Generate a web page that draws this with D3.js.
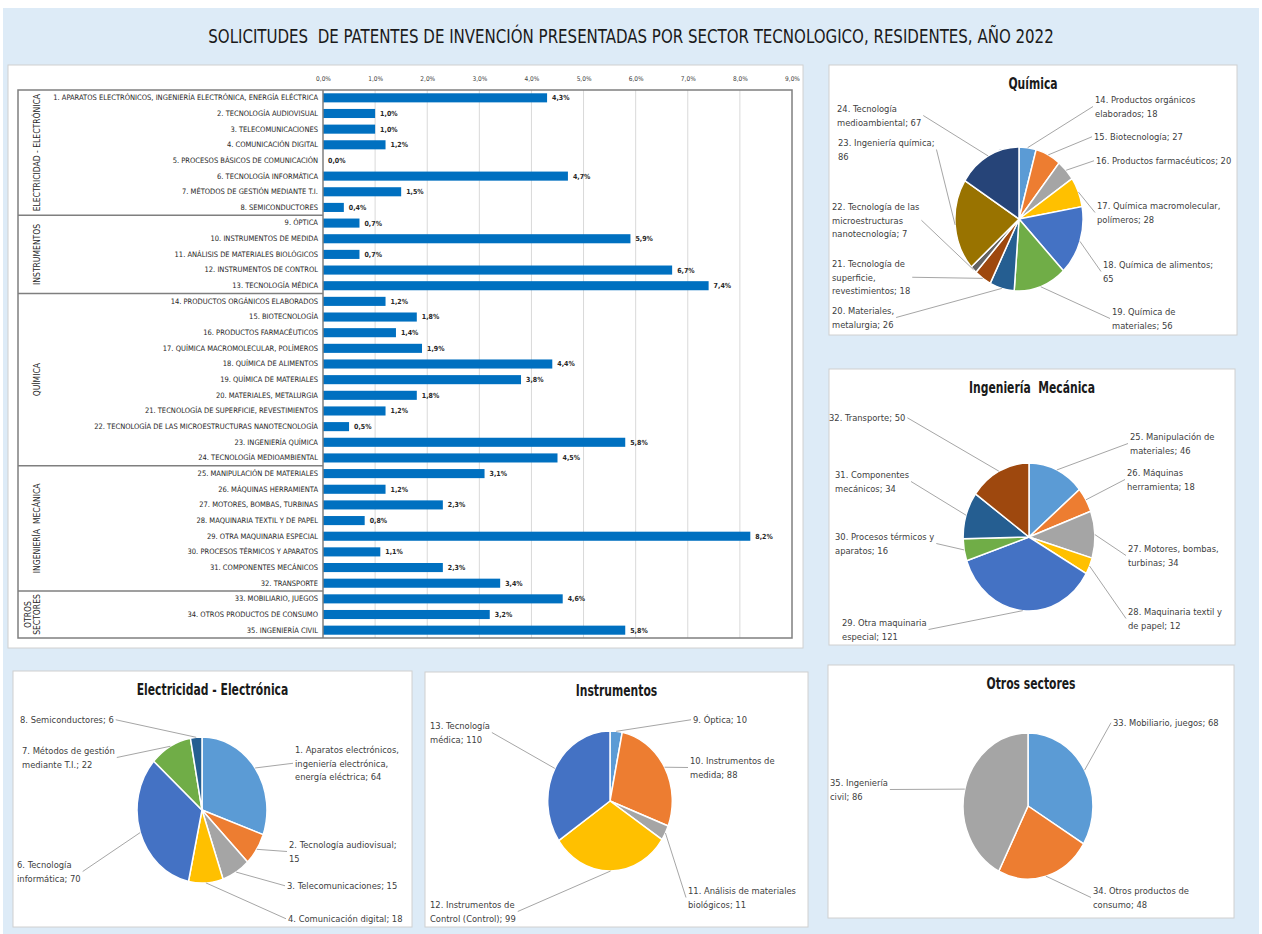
<!DOCTYPE html>
<html>
<head>
<meta charset="utf-8">
<script src="https://cdn.jsdelivr.net/npm/d3@7"></script>
<style>
  body { margin: 0; background: #ffffff; }
  svg text { font-family: "Liberation Sans Narrow", "DejaVu Sans Condensed", "Arial Narrow", sans-serif; }
</style>
</head>
<body>
<div id="chart"></div>
<script>
// data
var sectorNames = ["ELECTRICIDAD - ELECTRÓNICA", "INSTRUMENTOS", "QUÍMICA", "INGENIERÍA  MECÁNICA", "OTROS SECTORES"];
var sectorSizes = [8, 5, 11, 8, 3];

var fieldNames = [
  "1. APARATOS ELECTRÓNICOS, INGENIERÍA ELECTRÓNICA, ENERGÍA ELÉCTRICA",
  "2. TECNOLOGÍA AUDIOVISUAL",
  "3. TELECOMUNICACIONES",
  "4. COMUNICACIÓN DIGITAL",
  "5. PROCESOS BÁSICOS DE COMUNICACIÓN",
  "6. TECNOLOGÍA INFORMÁTICA",
  "7. MÉTODOS DE GESTIÓN MEDIANTE T.I.",
  "8. SEMICONDUCTORES",
  "9. ÓPTICA",
  "10. INSTRUMENTOS DE MEDIDA",
  "11. ANÁLISIS DE MATERIALES BIOLÓGICOS",
  "12. INSTRUMENTOS DE CONTROL",
  "13. TECNOLOGÍA MÉDICA",
  "14. PRODUCTOS ORGÁNICOS ELABORADOS",
  "15. BIOTECNOLOGÍA",
  "16. PRODUCTOS FARMACÉUTICOS",
  "17. QUÍMICA MACROMOLECULAR, POLÍMEROS",
  "18. QUÍMICA DE ALIMENTOS",
  "19. QUÍMICA DE MATERIALES",
  "20. MATERIALES, METALURGIA",
  "21. TECNOLOGÍA DE SUPERFICIE, REVESTIMIENTOS",
  "22. TECNOLOGÍA DE LAS MICROESTRUCTURAS NANOTECNOLOGÍA",
  "23. INGENIERÍA QUÍMICA",
  "24. TECNOLOGÍA MEDIOAMBIENTAL",
  "25. MANIPULACIÓN DE MATERIALES",
  "26. MÁQUINAS HERRAMIENTA",
  "27. MOTORES, BOMBAS, TURBINAS",
  "28. MAQUINARIA TEXTIL Y DE PAPEL",
  "29. OTRA MAQUINARIA ESPECIAL",
  "30. PROCESOS TÉRMICOS Y APARATOS",
  "31. COMPONENTES MECÁNICOS",
  "32. TRANSPORTE",
  "33. MOBILIARIO, JUEGOS",
  "34. OTROS PRODUCTOS DE CONSUMO",
  "35. INGENIERÍA CIVIL"
];
var sharePct = [4.3, 1.0, 1.0, 1.2, 0.0, 4.7, 1.5, 0.4,
                0.7, 5.9, 0.7, 6.7, 7.4,
                1.2, 1.8, 1.4, 1.9, 4.4, 3.8, 1.8, 1.2, 0.5, 5.8, 4.5,
                3.1, 1.2, 2.3, 0.8, 8.2, 1.1, 2.3, 3.4,
                4.6, 3.2, 5.8];
var pctTicks = [0, 1, 2, 3, 4, 5, 6, 7, 8, 9];

var elecNames = ["1. Aparatos electrónicos, ingeniería electrónica, energía eléctrica", "2. Tecnología audiovisual",
                 "3. Telecomunicaciones", "4. Comunicación digital", "6. Tecnología informática",
                 "7. Métodos de gestión mediante T.I.", "8. Semiconductores"];
var elecCounts = [64, 15, 15, 18, 70, 22, 6];

var instrNames = ["9. Óptica", "10. Instrumentos de medida", "11. Análisis de materiales biológicos",
                  "12. Instrumentos de Control (Control)", "13. Tecnología médica"];
var instrCounts = [10, 88, 11, 99, 110];

var quimNames = ["14. Productos orgánicos elaborados", "15. Biotecnología", "16. Productos farmacéuticos",
                 "17. Química macromolecular, polímeros", "18. Química de alimentos", "19. Química de materiales",
                 "20. Materiales, metalurgia", "21. Tecnología de superficie, revestimientos",
                 "22. Tecnología de las microestructuras nanotecnología", "23. Ingeniería química",
                 "24. Tecnología medioambiental"];
var quimCounts = [18, 27, 20, 28, 65, 56, 26, 18, 7, 86, 67];

var mecNames = ["25. Manipulación de materiales", "26. Máquinas herramienta", "27. Motores, bombas, turbinas",
                "28. Maquinaria textil y de papel", "29. Otra maquinaria especial", "30. Procesos térmicos y aparatos",
                "31. Componentes mecánicos", "32. Transporte"];
var mecCounts = [46, 18, 34, 12, 121, 16, 34, 50];

var otrosNames = ["33. Mobiliario, juegos", "34. Otros productos de consumo", "35. Ingeniería civil"];
var otrosCounts = [68, 48, 86];

var officeColors = ["#5b9bd5", "#ed7d31", "#a5a5a5", "#ffc000", "#4472c4", "#70ad47",
                    "#255e91", "#9e480e", "#636363", "#997300", "#264478"];

//layout: panel box, pie centre/radius, and label spots [x, y, words per line]
var squeeze = 0.89;
var quimLayout = {box: [829, 65, 408, 270], cx: 190, cy: 154, r: 72,
  labels: [[266, 35, [3, 2]], [265, 72, [3]], [267, 96, [4]], [268, 141, [3, 2]], [274, 200, [4, 1]],
           [283, 247, [3, 2]], [3, 246, [2, 2]], [3, 199, [3, 1, 2]], [3, 142, [4, 1, 2]], [9, 78, [3, 1]], [8, 44, [2, 2]]]};
var mecLayout = {box: [829, 369, 406, 276], cx: 200, cy: 168, r: 74,
  labels: [[301, 68, [3, 2]], [298, 104, [2, 2]], [299, 180, [3, 2]], [299, 243, [4, 3]],
           [13, 254, [3, 2]], [6, 168, [4, 2]], [6, 106, [2, 2]], [0, 49, [3]]]};
var elecLayout = {box: [13, 671, 399, 256], cx: 189, cy: 139, r: 73,
  labels: [[282, 79, [3, 2, 3]], [276, 174, [3, 1]], [274, 215, [3]], [275, 248, [4]],
           [4, 194, [2, 2]], [9, 80, [4, 3]], [7, 49, [3]]]};
var instrLayout = {box: [425, 672, 383, 255], cx: 185, cy: 129, r: 70,
  labels: [[268, 48, [3]], [265, 89, [3, 2]], [263, 219, [4, 2]], [5, 233, [3, 3]], [5, 54, [2, 2]]]};
var otrosLayout = {box: [828, 665, 406, 253], cx: 200, cy: 141, r: 73,
  labels: [[285, 58, [4]], [265, 226, [4, 2]], [2, 118, [2, 2]]]};

var svg;
var formatPct = d3.format(".1f");

function initialize(){

  svg = d3.select("#chart").append("svg")
          .attr("width", 1262)
          .attr("height", 934);

  drawBackground();
  drawBarChart();
  drawPie("Química", quimNames, quimCounts, quimLayout);
  drawPie("Ingeniería  Mecánica", mecNames, mecCounts, mecLayout);
  drawPie("Electricidad - Electrónica", elecNames, elecCounts, elecLayout);
  drawPie("Instrumentos", instrNames, instrCounts, instrLayout);
  drawPie("Otros sectores", otrosNames, otrosCounts, otrosLayout);
}

function drawBackground(){

  svg.append("rect")
     .attr("x", 3).attr("y", 8)
     .attr("width", 1256).attr("height", 926)
     .attr("fill", "#ddebf7");

  svg.append("text")
     .attr("transform", "translate(631,43) scale(0.88,1)")
     .attr("text-anchor", "middle")
     .attr("font-size", 19)
     .attr("fill", "#1a1a1a")
     .style("white-space", "pre")
     .text("SOLICITUDES  DE PATENTES DE INVENCIÓN PRESENTADAS POR SECTOR TECNOLOGICO, RESIDENTES, AÑO 2022");
}

function drawBarChart(){

  var top = 90, bottom = 638, left = 18;

  svg.append("rect")
     .attr("x", 8).attr("y", 65)
     .attr("width", 795).attr("height", 583)
     .attr("fill", "#fff")
     .attr("stroke", "#d0d0d0");

  var xScale = d3.scaleLinear()
                 .domain([0, 9])
                 .range([323, 792]);

  var yScale = d3.scaleBand()
                 .domain(d3.range(fieldNames.length))
                 .range([top, bottom])
                 .paddingInner(0.42)
                 .paddingOuter(0.21);

  //grid
  svg.append("g").selectAll("line")
     .data(pctTicks.slice(1, -1))
     .enter()
     .append("line")
     .attr("x1", function(d){ return xScale(d); })
     .attr("x2", function(d){ return xScale(d); })
     .attr("y1", top).attr("y2", bottom)
     .attr("stroke", "#d9d9d9")
     .attr("stroke-width", 1);

  //top tick labels
  var xAxis = svg.append("g")
     .attr("transform", "translate(0," + 81 + ")")
     .call(d3.axisTop(xScale)
             .tickValues(pctTicks)
             .tickSize(0)
             .tickPadding(0)
             .tickFormat(function(d){ return formatPct(d).replace(".", ",") + "%"; }));
  xAxis.select(".domain").remove();
  xAxis.attr("font-family", null);
  xAxis.selectAll("text")
       .attr("font-size", 6.5)
       .attr("fill", "#404040");

  //bars
  svg.append("g").selectAll("rect")
     .data(sharePct)
     .enter()
     .append("rect")
     .attr("x", xScale(0))
     .attr("y", function(d, i){ return yScale(i); })
     .attr("width", function(d){ return xScale(d) - xScale(0); })
     .attr("height", yScale.bandwidth())
     .attr("fill", "#0070c0");

  //value labels
  svg.append("g").selectAll("text")
     .data(sharePct)
     .enter()
     .append("text")
     .attr("x", function(d){ return xScale(d) + 5; })
     .attr("y", function(d, i){ return yScale(i) + yScale.bandwidth() / 2; })
     .attr("dy", "0.35em")
     .attr("font-size", 7)
     .attr("font-weight", "bold")
     .attr("fill", "#262626")
     .text(function(d){ return formatPct(d).replace(".", ",") + "%"; });

  //category labels
  var yAxis = svg.append("g")
     .attr("transform", "translate(" + xScale(0) + ",0)")
     .call(d3.axisLeft(yScale)
             .tickSize(0)
             .tickPadding(5)
             .tickFormat(function(i){ return fieldNames[i]; }));
  yAxis.select(".domain").remove();
  yAxis.attr("font-family", null);
  yAxis.selectAll("text")
       .attr("font-size", 7.5)
       .attr("fill", "#262626");

  //sector column
  var frame = svg.append("g")
     .attr("stroke", "#7f7f7f")
     .attr("stroke-width", 1.5)
     .attr("fill", "none");

  var start = 0;
  sectorSizes.forEach(function(n, k){
    var y0 = yScale(start) - yScale.step() * 0.21;
    var y1 = yScale(start + n - 1) + yScale.bandwidth() + yScale.step() * 0.21;
    if(k > 0){
      frame.append("line")
           .attr("x1", left).attr("x2", xScale(0))
           .attr("y1", y0).attr("y2", y0);
    }

    var words = sectorNames[k].split(/\s+/);
    var lbl = svg.append("text")
       .attr("font-size", 8.5)
       .attr("fill", "#262626")
       .attr("text-anchor", "middle")
       .text(sectorNames[k].replace(/\s+/g, " "));
    var lines = [sectorNames[k]];
    if(lbl.node().getComputedTextLength() > (y1 - y0) - 4){
      lines = words;
    }
    lbl.text(null);
    var cx = 37 - (lines.length - 1) * 9;
    lbl.attr("transform", "translate(" + cx + "," + ((y0 + y1) / 2) + ") rotate(-90)")
       .style("white-space", "pre");
    lines.forEach(function(s, j){
      lbl.append("tspan")
         .attr("x", 0)
         .attr("dy", j ? 9 : "0.35em")
         .text(s);
    });
    start += n;
  });

  frame.append("rect")
       .attr("x", left).attr("y", top)
       .attr("width", xScale(9) - left).attr("height", bottom - top);
  frame.append("line")
       .attr("x1", xScale(0)).attr("x2", xScale(0))
       .attr("y1", top).attr("y2", bottom);
}

function drawPie(title, names, counts, lay){

  var g = svg.append("g")
             .attr("transform", "translate(" + lay.box[0] + "," + lay.box[1] + ")");

  g.append("rect")
   .attr("width", lay.box[2]).attr("height", lay.box[3])
   .attr("fill", "#fff")
   .attr("stroke", "#d0d0d0");

  g.append("text")
   .attr("transform", "translate(" + (lay.box[2] / 2) + ",24) scale(0.8,1)")
   .attr("text-anchor", "middle")
   .attr("font-size", 15)
   .attr("font-weight", "bold")
   .attr("fill", "#1a1a1a")
   .style("white-space", "pre")
   .text(title);

  var slices = names.map(function(n, i){
    return {name: n, count: counts[i], color: officeColors[i]};
  });

  var arcs = d3.pie()
               .sort(null)
               .value(function(d){ return d.count; })(slices);

  var arc = d3.arc().innerRadius(0).outerRadius(lay.r);

  g.append("g")
   .attr("transform", "translate(" + lay.cx + "," + lay.cy + ") scale(" + squeeze + ",1)")
   .selectAll("path")
   .data(arcs)
   .enter()
   .append("path")
   .attr("d", arc)
   .attr("fill", function(d){ return d.data.color; })
   .attr("stroke", "#fff")
   .attr("stroke-width", 1.5)
   .attr("vector-effect", "non-scaling-stroke");

  arcs.forEach(function(a, i){
    var spot = lay.labels[i];
    var words = (a.data.name + "; " + a.data.count).split(" ");
    var lines = [], k = 0;
    spot[2].forEach(function(n){
      lines.push(words.slice(k, k + n).join(" "));
      k += n;
    });

    var t = g.append("text")
             .attr("x", spot[0]).attr("y", spot[1])
             .attr("font-size", 9.3)
             .attr("fill", "#404040");
    lines.forEach(function(s, j){
      t.append("tspan")
       .attr("x", spot[0])
       .attr("dy", j ? 13.5 : "0.35em")
       .text(s);
    });

    var bb = t.node().getBBox();
    var mid = (a.startAngle + a.endAngle) / 2;
    var px = lay.cx + squeeze * lay.r * Math.sin(mid);
    var py = lay.cy - lay.r * Math.cos(mid);
    var onRight = spot[0] > lay.cx;
    var ex = onRight ? bb.x - 2 : bb.x + bb.width + 2;
    var ey = bb.y + bb.height / 2;

    g.append("line")
     .attr("x1", px).attr("y1", py)
     .attr("x2", ex).attr("y2", ey)
     .attr("stroke", "#a6a6a6")
     .attr("stroke-width", 1);
  });
}

initialize();
</script>
</body>
</html>
